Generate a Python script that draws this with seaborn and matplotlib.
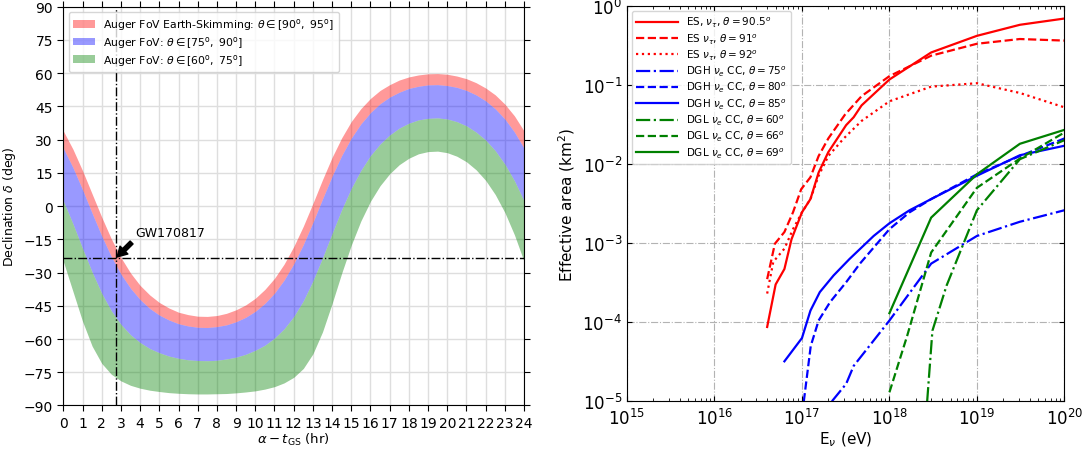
import seaborn as sns
import matplotlib.pyplot as plt
import matplotlib.ticker as mticker

# ---- left panel: Auger field of view (declination edges for each zenith cut), every half hour
hours = [h / 2 for h in range(49)]
dec_95 = [33.9, 25.7, 16.0, 5.5, -5.0, -14.8, -23.2, -30.2, -35.8, -40.1, -43.5, -46.0, -47.9,
          -49.0, -49.7, -49.8, -49.4, -48.4, -46.8, -44.6, -41.6, -37.6, -32.6, -26.2, -18.3,
          -9.1, 1.2, 11.9, 22.0, 30.8, 38.2, 44.0, 48.6, 52.2, 54.8, 56.9, 58.3, 59.2, 59.7,
          59.8, 59.5, 58.7, 57.5, 55.7, 53.3, 50.2, 46.0, 40.7, 33.9]
dec_90 = [26.1, 17.4, 7.4, -3.2, -13.5, -22.8, -30.7, -37.1, -42.2, -46.2, -49.2, -51.4, -53.1,
          -54.1, -54.7, -54.8, -54.4, -53.6, -52.2, -50.2, -47.5, -43.9, -39.3, -33.4, -26.1,
          -17.4, -7.4, 3.2, 13.5, 22.8, 30.7, 37.1, 42.2, 46.2, 49.2, 51.4, 53.1, 54.1, 54.7,
          54.8, 54.4, 53.6, 52.2, 50.2, 47.5, 43.9, 39.3, 33.4, 26.1]
dec_75 = [2.3, -8.0, -19.1, -29.8, -39.4, -47.3, -53.4, -58.1, -61.6, -64.3, -66.2, -67.7, -68.7,
          -69.4, -69.7, -69.8, -69.6, -69.0, -68.2, -66.9, -65.1, -62.8, -59.6, -55.4, -49.9,
          -42.8, -33.8, -23.4, -12.4, -1.6, 8.0, 16.1, 22.8, 28.0, 32.1, 35.2, 37.4, 38.9, 39.6,
          39.8, 39.3, 38.1, 36.2, 33.4, 29.8, 25.0, 18.9, 11.4, 2.3]
dec_60 = [-25.0, -38.5, -52.0, -63.2, -71.0, -75.9, -78.9, -80.9, -82.2, -83.1, -83.7, -84.2, -84.5,
          -84.7, -84.8, -84.8, -84.7, -84.6, -84.3, -83.9, -83.4, -82.6, -81.5, -79.8, -77.3,
          -73.3, -66.7, -56.8, -44.0, -30.3, -17.6, -6.7, 2.2, 9.2, 14.6, 18.7, 21.6, 23.6, 24.6,
          24.8, 24.1, 22.5, 20.0, 16.4, 11.6, 5.2, -2.9, -13.0, -25.0]

gw_time = 2.75
gw_dec = -23.38

# ---- right panel: effective areas (E in eV, A in km^2)
es905_E = [4.0e16, 5.0e16, 6.3e16, 7.6e16, 1.0e17, 1.25e17, 1.55e17, 2.0e17, 3.2e17, 3.9e17, 4.8e17,
           1.0e18, 3.0e18, 1.0e19, 3.1e19, 1.0e20]
es905_A = [8.7e-5, 3.0e-4, 4.7e-4, 1.12e-3, 2.45e-3, 3.6e-3, 7.8e-3, 1.41e-2, 3.1e-2, 3.9e-2, 5.5e-2,
           0.117, 0.257, 0.417, 0.575, 0.69]
es91_E = [4.0e16, 4.9e16, 6.3e16, 7.9e16, 9.8e16, 1.25e17, 1.55e17, 2.0e17, 3.1e17, 4.8e17,
          1.0e18, 3.0e18, 1.0e19, 3.1e19, 1.0e20]
es91_A = [3.5e-4, 9.8e-4, 1.38e-3, 2.45e-3, 4.8e-3, 6.8e-3, 1.26e-2, 2.1e-2, 4.2e-2, 7.2e-2,
          0.129, 0.234, 0.331, 0.38, 0.363]
es92_E = [4.0e16, 4.7e16, 6.3e16, 7.9e16, 1.0e17, 1.25e17, 1.55e17, 2.0e17, 3.0e17, 4.8e17,
          1.0e18, 3.0e18, 1.0e19, 3.1e19, 1.0e20]
es92_A = [2.3e-4, 5.8e-4, 8.5e-4, 1.5e-3, 2.45e-3, 3.6e-3, 7.1e-3, 1.26e-2, 2.1e-2, 3.5e-2,
          6.2e-2, 9.5e-2, 0.105, 0.079, 0.052]
dgh75_E = [2.2e17, 3.2e17, 3.9e17, 1.0e18, 3.0e18, 1.0e19, 3.1e19, 1.0e20]
dgh75_A = [1.0e-5, 1.66e-5, 2.8e-5, 1.05e-4, 5.5e-4, 1.23e-3, 1.86e-3, 2.6e-3]
dgh80_E = [1.05e17, 1.17e17, 1.26e17, 1.55e17, 2.1e17, 3.2e17, 4.6e17, 1.0e18, 1.7e18, 3.0e18,
           1.0e19, 3.1e19, 1.0e20]
dgh80_A = [1.0e-5, 2.6e-5, 5.0e-5, 1.05e-4, 1.8e-4, 3.2e-4, 5.5e-4, 1.5e-3, 2.45e-3, 3.6e-3,
           7.4e-3, 1.26e-2, 2.1e-2]
dgh85_E = [6.3e16, 1.0e17, 1.25e17, 1.6e17, 2.3e17, 3.5e17, 6.6e17, 1.0e18, 1.7e18, 3.0e18,
           1.0e19, 3.1e19, 1.0e20]
dgh85_A = [3.2e-5, 6.3e-5, 1.4e-4, 2.4e-4, 3.9e-4, 6.3e-4, 1.23e-3, 1.78e-3, 2.6e-3, 3.6e-3,
           7.1e-3, 1.29e-2, 1.7e-2]
dgl60_E = [2.7e18, 3.1e18, 4.5e18, 1.0e19, 3.1e19, 1.0e20]
dgl60_A = [1.0e-5, 7.8e-5, 2.9e-4, 2.6e-3, 1.15e-2, 2.0e-2]
dgl66_E = [1.0e18, 1.6e18, 3.0e18, 1.0e19, 3.1e19, 1.0e20]
dgl66_A = [1.3e-5, 6.8e-5, 7.6e-4, 5.0e-3, 1.17e-2, 2.5e-2]
dgl69_E = [1.0e18, 3.0e18, 1.0e19, 3.1e19, 1.0e20]
dgl69_A = [1.3e-4, 2.1e-3, 7.4e-3, 1.8e-2, 2.7e-2]

fig = plt.figure(figsize=(10.92, 4.52), dpi=100)
ax1 = fig.add_axes([0.058, 0.1007, 0.4219, 0.8823])
ax2 = fig.add_axes([0.5742, 0.110, 0.4005, 0.875])

# left
ax1.set_axisbelow(True)
ax1.fill_between(hours, dec_90, dec_95, color='red', alpha=0.4, lw=0,
                 label=r'Auger FoV Earth-Skimming: $\theta \in [90^{\rm o},\ 95^{\rm o}]$')
ax1.fill_between(hours, dec_75, dec_90, color='blue', alpha=0.4, lw=0,
                 label=r'Auger FoV: $\theta \in [75^{\rm o},\ 90^{\rm o}]$')
ax1.fill_between(hours, dec_60, dec_75, color='green', alpha=0.4, lw=0,
                 label=r'Auger FoV: $\theta \in [60^{\rm o},\ 75^{\rm o}]$')
ax1.axvline(gw_time, color='k', ls='-.', lw=1)
ax1.axhline(gw_dec, color='k', ls='-.', lw=1)
ax1.annotate('GW170817', xy=(gw_time, gw_dec), xytext=(3.75, -13.4), fontsize=9,
             arrowprops=dict(facecolor='black', shrink=0.05, width=3, headwidth=8, headlength=7))
ax1.set_xlim(0, 24)
ax1.set_ylim(-90, 90)
ax1.set_xticks(range(0, 25))
ax1.set_yticks(range(-90, 91, 15))
ax1.grid(True, color='0.87', lw=1)
ax1.tick_params(direction='out', top=True, right=True, labelsize=10, length=4)
ax1.set_xlabel(r'$\alpha - t_{\rm GS}$ (hr)', fontsize=9.5, labelpad=1)
ax1.set_ylabel(r'Declination $\delta$ (deg)', fontsize=9)
ax1.legend(loc='upper left', fontsize=7.8, labelspacing=0.15)

# right
ax2.set_xscale('log')
ax2.set_yscale('log')
curves = [
    (es905_E, es905_A, 'red', '-', r'ES, $\nu_\tau$, $\theta=90.5^o$'),
    (es91_E, es91_A, 'red', '--', r'ES $\nu_\tau$, $\theta=91^o$'),
    (es92_E, es92_A, 'red', ':', r'ES $\nu_\tau$, $\theta=92^o$'),
    (dgh75_E, dgh75_A, 'blue', '-.', r'DGH $\nu_e$ CC, $\theta=75^o$'),
    (dgh80_E, dgh80_A, 'blue', '--', r'DGH $\nu_e$ CC, $\theta=80^o$'),
    (dgh85_E, dgh85_A, 'blue', '-', r'DGH $\nu_e$ CC, $\theta=85^o$'),
    (dgl60_E, dgl60_A, 'green', '-.', r'DGL $\nu_e$ CC, $\theta=60^o$'),
    (dgl66_E, dgl66_A, 'green', '--', r'DGL $\nu_e$ CC, $\theta=66^o$'),
    (dgl69_E, dgl69_A, 'green', '-', r'DGL $\nu_e$ CC, $\theta=69^o$'),
]
for E, A, col, ls, lab in curves:
    sns.lineplot(x=E, y=A, ax=ax2, color=col, linestyle=ls, lw=1.6, label=lab,
                 sort=False, estimator=None)
ax2.set_xlim(1e15, 1e20)
ax2.set_ylim(1e-5, 1)
ax2.yaxis.set_minor_locator(mticker.NullLocator())
ax2.grid(True, which='major', ls='-.', color='0.7', lw=0.8)
ax2.tick_params(which='both', direction='in', top=True, right=True, labelsize=12)
ax2.tick_params(axis='x', pad=5)
ax2.set_xlabel(r'E$_\nu$ (eV)', fontsize=11, labelpad=1)
ax2.set_ylabel(r'Effective area (km$^2$)', fontsize=11)
ax2.legend(loc='upper left', fontsize=7.5, handlelength=4, labelspacing=0.2)

fig.savefig('out.png', dpi=100)
